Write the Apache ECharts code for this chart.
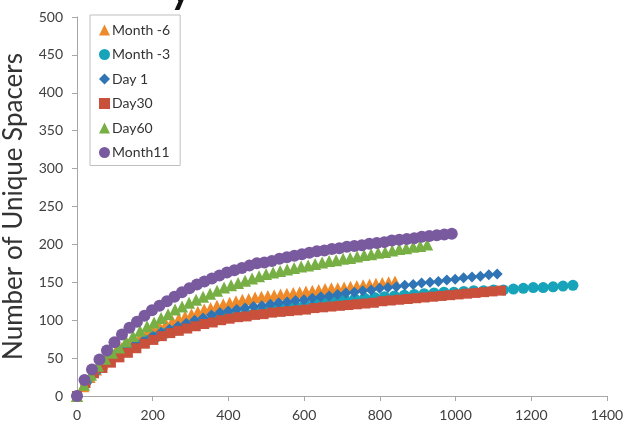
<!DOCTYPE html>
<html>
<head>
<meta charset="utf-8">
<script src="https://cdn.jsdelivr.net/npm/echarts@6/dist/echarts.min.js"></script>
<style>html,body{margin:0;padding:0;background:#fff;}#c{width:630px;height:430px;}</style>
</head>
<body>
<div id="c"></div>
<script>
const seriesNames = ['Month -6', 'Month -3', 'Day 1', 'Day30', 'Day60', 'Month11'];
const xTicks = [0, 200, 400, 600, 800, 1000, 1200, 1400];
const yTicks = [0, 50, 100, 150, 200, 250, 300, 350, 400, 450, 500];

const m6X = [0,16.8,33.6,50.4,67.2,84,100.8,117.6,134.4,151.2,168,184.8,201.6,218.4,235.2,252,268.8,285.6,302.4,319.2,336,352.8,369.6,386.4,403.2,420,436.8,453.6,470.4,487.2,504,520.8,537.6,554.4,571.2,588,604.8,621.6,638.4,655.2,672,688.8,705.6,722.4,739.2,756,772.8,789.6,806.4,823.2,840];
const m6Y = [0,13,25,35,43,51,57,63,69,74,79,83,87,91,95,99,102,105,108,111,114,116,119,121,123,125,127,128,130,131,132,133,134,135,136,137,138,139,140,141,142,142,143,144,145,146,147,148,149,150,151];

const m3X = [0,26.2,52.4,78.6,104.8,131,157.2,183.4,209.6,235.8,262,288.2,314.4,340.6,366.8,393,419.2,445.4,471.6,497.8,524,550.2,576.4,602.6,628.8,655,681.2,707.4,733.6,759.8,786,812.2,838.4,864.6,890.8,917,943.2,969.4,995.6,1021.8,1048,1074.2,1100.4,1126.6,1152.8,1179,1205.2,1231.4,1257.6,1283.8,1310];
const m3Y = [0,20,34,45,54,61,67,73,78,83,87,91,95,98,101,104,107,109,111,113,115,117,119,121,123,124,126,127,128,129,130,131,132,133,134,135,136,137,137,138,139,139,140,140,141,142,143,143,144,145,146];

const d1X = [0,22.2,44.4,66.6,88.8,111,133.2,155.4,177.6,199.8,222,244.2,266.4,288.6,310.8,333,355.2,377.4,399.6,421.8,444,466.2,488.4,510.6,532.8,555,577.2,599.4,621.6,643.8,666,688.2,710.4,732.6,754.8,777,799.2,821.4,843.6,865.8,888,910.2,932.4,954.6,976.8,999,1021.2,1043.4,1065.6,1087.8,1110];
const d1Y = [0,17,31,42,51,58,64,69,74,79,84,88,92,96,100,103,107,110,112,114,116,118,119,121,123,124,126,127,129,131,132,134,136,137,139,140,142,143,144,146,147,149,150,151,153,154,156,157,158,160,161];

const d30X = [0,22.4,44.8,67.2,89.6,112,134.4,156.8,179.2,201.6,224,246.4,268.8,291.2,313.6,336,358.4,380.8,403.2,425.6,448,470.4,492.8,515.2,537.6,560,582.4,604.8,627.2,649.6,672,694.4,716.8,739.2,761.6,784,806.4,828.8,851.2,873.6,896,918.4,940.8,963.2,985.6,1008,1030.4,1052.8,1075.2,1097.6,1120];
const d30Y = [0,17,30,37,44,51,57,63,69,74,79,83,86,89,92,95,97,100,102,104,105,107,108,110,111,112,113,114,116,117,118,119,120,121,122,123,125,126,127,128,129,130,131,132,133,134,135,136,137,138,139];

const d60X = [0,18.5,37,55.5,74,92.5,111,129.5,148,166.5,185,203.5,222,240.5,259,277.5,296,314.5,333,351.5,370,388.5,407,425.5,444,462.5,481,499.5,518,536.5,555,573.5,592,610.5,629,647.5,666,684.5,703,721.5,740,758.5,777,795.5,814,832.5,851,869.5,888,906.5,925];
const d60Y = [0,15,28,40,49,57,64,72,79,86,92,97,103,108,114,118,123,127,131,135,139,143,146,149,152,155,158,161,163,165,167,169,171,172,174,176,178,179,181,182,184,186,187,189,190,192,194,195,197,198,200];

const m11X = [0,19.8,39.6,59.4,79.2,99,118.8,138.6,158.4,178.2,198,217.8,237.6,257.4,277.2,297,316.8,336.6,356.4,376.2,396,415.8,435.6,455.4,475.2,495,514.8,534.6,554.4,574.2,594,613.8,633.6,653.4,673.2,693,712.8,732.6,752.4,772.2,792,811.8,831.6,851.4,871.2,891,910.8,930.6,950.4,970.2,990];
const m11Y = [0,21,35,48,60,71,81,90,98,106,113,119,125,131,137,142,147,151,155,159,163,166,169,172,175,176,178,181,183,185,187,189,191,192,194,195,197,198,199,201,202,203,205,206,207,208,210,211,212,213,214];

const xs = [m6X, m3X, d1X, d30X, d60X, m11X];
const ys = [m6Y, m3Y, d1Y, d30Y, d60Y, m11Y];
const colors = ['#EF8A2B', '#17A3B9', '#2F74B5', '#C9503B', '#78AF45', '#7A5A9E'];
const symbols = ['triangle', 'circle', 'diamond', 'rect', 'triangle', 'circle'];
const sizes = [12, 11, 11, 10, 12, 12];

const font = 'Lato';
const chart = echarts.init(document.getElementById('c'), null, {renderer: 'canvas'});
const series = seriesNames.map((n, k) => ({
  name: n,
  type: 'scatter',
  symbol: symbols[k],
  symbolSize: sizes[k],
  itemStyle: {color: colors[k], opacity: 1},
  data: xs[k].map((x, i) => [x, ys[k][i]]),
  z: 2 + k
}));

chart.setOption({
  animation: false,
  backgroundColor: '#ffffff',
  textStyle: {fontFamily: font},
  grid: {left: 77, right: 23, top: 17, bottom: 34, containLabel: false, outerBoundsMode: 'none'},
  xAxis: {
    type: 'value', min: xTicks[0], max: xTicks[xTicks.length - 1], interval: 200,
    axisLine: {show: true, lineStyle: {color: '#A6A6A6', width: 1}},
    axisTick: {show: true, length: 5, inside: false, lineStyle: {color: '#A6A6A6'}},
    splitLine: {show: false},
    axisLabel: {color: '#404040', fontSize: 14, fontFamily: font, margin: 12,
      formatter: v => String(v)}
  },
  yAxis: {
    type: 'value', min: yTicks[0], max: yTicks[yTicks.length - 1], interval: 50,
    name: 'Number of Unique Spacers', nameLocation: 'middle', nameGap: 50,
    nameTextStyle: {color: '#333333', fontSize: 26, fontFamily: font},
    axisLine: {show: true, lineStyle: {color: '#A6A6A6', width: 1}},
    axisTick: {show: true, length: 5, inside: false, lineStyle: {color: '#A6A6A6'}},
    splitLine: {show: false},
    axisLabel: {color: '#404040', fontSize: 14, fontFamily: font, margin: 14,
      formatter: v => String(v)}
  },
  legend: {
    orient: 'vertical', left: 90, top: 15,
    padding: [8, 10, 6, 9],
    itemGap: 10.5, itemWidth: 11, itemHeight: 11,
    borderColor: '#BFBFBF', borderWidth: 1, backgroundColor: '#ffffff',
    textStyle: {color: '#333333', fontSize: 14, lineHeight: 13, fontFamily: font, padding: [0, 0, 0, -3]},
    data: seriesNames
  },
  graphic: [{
    type: 'text', left: 170, top: -30, silent: true,
    style: {text: 'y', font: 'bold 40px ' + font, fill: '#111'}
  }],
  series: series
});
</script>
</body>
</html>
